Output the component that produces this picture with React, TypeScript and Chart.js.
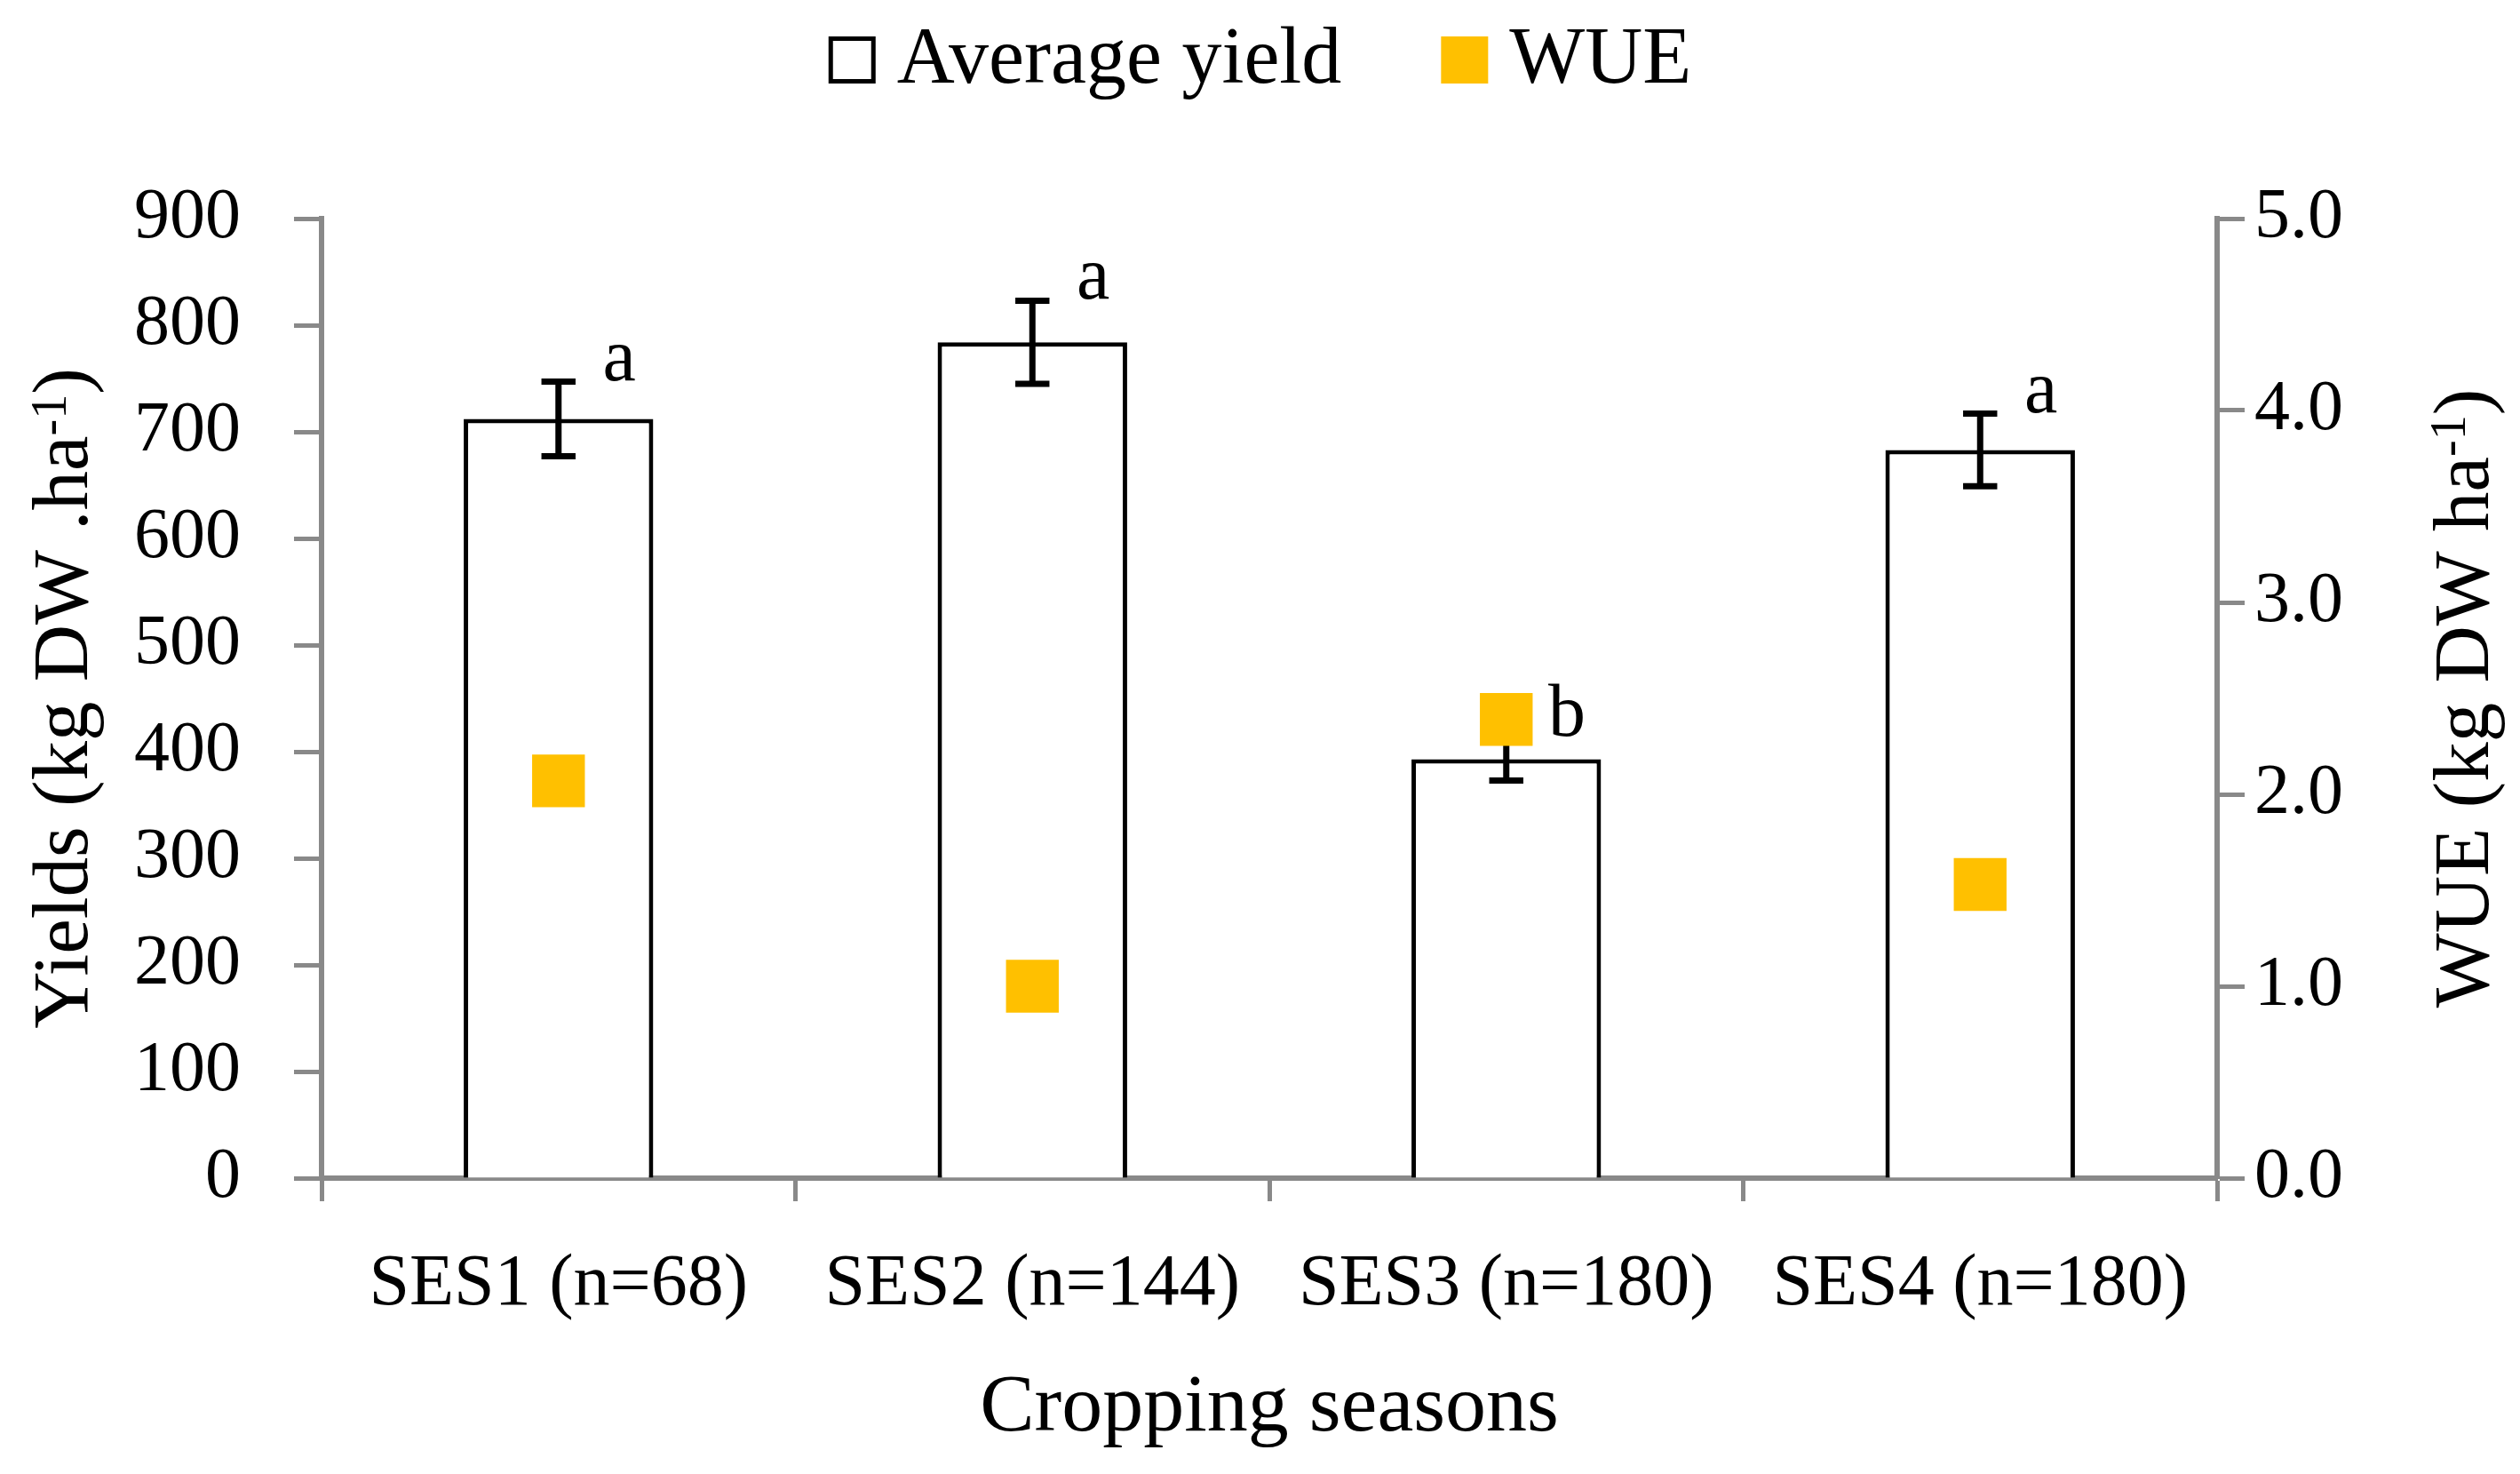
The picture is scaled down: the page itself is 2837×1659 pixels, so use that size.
import React, { useEffect, useRef } from 'react';
import { Chart, registerables } from 'chart.js';

Chart.register(...registerables);

const categories = ['SES1 (n=68)', 'SES2 (n=144)', 'SES3 (n=180)', 'SES4 (n=180)'];
const avgYield = [712, 784, 393, 683];
const yieldError = [35, 39, 20, 34];
const wue = [2.07, 1.0, 2.39, 1.53];
const significance = ['a', 'a', 'b', 'a'];
const legendLabels = ['Average yield', 'WUE'];
const xTitle = 'Cropping seasons';
const yTitleMain = 'Yields (kg DW .ha';
const y1TitleMain = 'WUE (kg DW ha';
const titleSup = '-1';
const titleEnd = ')';

const FONT = "'Liberation Serif', 'Times New Roman', serif";
const AXIS_GRAY = '#898989';
const WUE_COLOR = '#FFC000';
const W = 2837;
const H = 1659;

function drawRotatedTitle(ctx: CanvasRenderingContext2D, cx: number, cy: number, main: string, raise: number) {
  ctx.save();
  ctx.translate(cx, cy);
  ctx.rotate(-Math.PI / 2);
  ctx.fillStyle = '#000';
  ctx.textBaseline = 'alphabetic';
  ctx.textAlign = 'left';
  const big = `89px ${FONT}`;
  const small = `56px ${FONT}`;
  ctx.font = big;
  const w1 = ctx.measureText(main).width;
  const w3 = ctx.measureText(titleEnd).width;
  ctx.font = small;
  const w2 = ctx.measureText(titleSup).width;
  const total = w1 + w2 + w3;
  let x = -total / 2;
  ctx.font = big;
  ctx.fillText(main, x, 0);
  x += w1;
  ctx.font = small;
  ctx.fillText(titleSup, x, -raise);
  x += w2;
  ctx.font = big;
  ctx.fillText(titleEnd, x, 0);
  ctx.restore();
}

const overlayPlugin = {
  id: 'overlay',
  afterDatasetDraw(chart: any, args: any) {
    if (args.index !== 0) return;
    const ctx: CanvasRenderingContext2D = chart.ctx;
    const y = chart.scales.y;
    const meta = chart.getDatasetMeta(0);
    ctx.save();
    meta.data.forEach((bar: any, i: number) => {
      const x = bar.x;
      const w = bar.width;
      const hi = y.getPixelForValue(avgYield[i] + yieldError[i]);
      const lo = y.getPixelForValue(avgYield[i] - yieldError[i]);
      const cap = w * 0.09;
      ctx.strokeStyle = '#000';
      ctx.lineWidth = 7;
      ctx.lineCap = 'butt';
      ctx.beginPath();
      ctx.moveTo(x, hi);
      ctx.lineTo(x, lo);
      ctx.moveTo(x - cap, hi);
      ctx.lineTo(x + cap, hi);
      ctx.moveTo(x - cap, lo);
      ctx.lineTo(x + cap, lo);
      ctx.stroke();
      ctx.fillStyle = '#000';
      ctx.font = `84px ${FONT}`;
      ctx.textAlign = 'center';
      ctx.textBaseline = 'alphabetic';
      ctx.fillText(significance[i], x + w * 0.32, hi - 2);
    });
    ctx.restore();
  },
  afterDraw(chart: any) {
    const ctx: CanvasRenderingContext2D = chart.ctx;
    const area = chart.chartArea;
    const midY = (area.top + area.bottom) / 2;
    const midX = (area.left + area.right) / 2;

    drawRotatedTitle(ctx, 98, midY, yTitleMain, 24);
    drawRotatedTitle(ctx, 2801, midY, y1TitleMain, 26);

    ctx.save();
    ctx.fillStyle = '#000';
    ctx.font = `92px ${FONT}`;
    ctx.textAlign = 'center';
    ctx.textBaseline = 'alphabetic';
    ctx.fillText(xTitle, midX, 1610);

    // legend
    ctx.font = `90px ${FONT}`;
    ctx.textAlign = 'left';
    const box = 53;
    const gap = 24;
    const itemGap = 112;
    const t1 = ctx.measureText(legendLabels[0]).width;
    const t2 = ctx.measureText(legendLabels[1]).width;
    const total = box + gap + t1 + itemGap + box + gap + t2;
    let x = chart.width / 2 - total / 2;
    const boxTop = 41;
    const baseline = 93;
    ctx.fillStyle = '#fff';
    ctx.fillRect(x, boxTop, box, box);
    ctx.strokeStyle = '#000';
    ctx.lineWidth = 5;
    ctx.strokeRect(x + 2.5, boxTop + 2.5, box - 5, box - 5);
    x += box + gap;
    ctx.fillStyle = '#000';
    ctx.fillText(legendLabels[0], x, baseline);
    x += t1 + itemGap;
    ctx.fillStyle = WUE_COLOR;
    ctx.fillRect(x, boxTop, box, box);
    x += box + gap;
    ctx.fillStyle = '#000';
    ctx.fillText(legendLabels[1], x, baseline);
    ctx.restore();
  },
};

export default function App() {
  const ref = useRef<HTMLCanvasElement | null>(null);

  useEffect(() => {
    if (!ref.current) return;
    const tickFont = { family: FONT, size: 80 };
    const chart = new Chart(ref.current, {
      type: 'bar',
      data: {
        labels: categories,
        datasets: [
          {
            type: 'bar',
            label: legendLabels[0],
            data: avgYield,
            backgroundColor: '#ffffff',
            borderColor: '#000000',
            borderWidth: 5,
            barPercentage: 0.4,
            categoryPercentage: 1,
            yAxisID: 'y',
            order: 1,
          } as any,
          {
            type: 'line',
            label: legendLabels[1],
            data: wue,
            yAxisID: 'y1',
            showLine: false,
            pointStyle: 'rect',
            pointRadius: 42,
            pointHoverRadius: 42,
            pointBorderWidth: 0,
            backgroundColor: WUE_COLOR,
            borderColor: WUE_COLOR,
            order: 0,
          } as any,
        ],
      },
      options: {
        responsive: false,
        animation: false,
        devicePixelRatio: 1,
        events: [],
        layout: { padding: { top: 246, left: 0, right: 0, bottom: 0 } },
        plugins: {
          legend: { display: false },
          title: { display: false },
          tooltip: { enabled: false },
        },
        scales: {
          x: {
            offset: true,
            grid: {
              offset: true,
              drawOnChartArea: false,
              drawTicks: true,
              tickLength: 26,
              tickColor: AXIS_GRAY,
              tickWidth: 5,
            },
            border: { display: true, color: AXIS_GRAY, width: 6 },
            ticks: { font: { family: FONT, size: 82 }, color: '#000', padding: 45, maxRotation: 0, autoSkip: false },
            afterFit: (s: any) => {
              s.height = 333;
            },
          },
          y: {
            position: 'left',
            min: 0,
            max: 900,
            ticks: { stepSize: 100, font: tickFont, color: '#000', padding: 60 },
            grid: {
              drawOnChartArea: false,
              drawTicks: true,
              tickLength: 31,
              tickColor: AXIS_GRAY,
              tickWidth: 5,
            },
            border: { display: true, color: AXIS_GRAY, width: 6 },
            afterFit: (s: any) => {
              s.width = 362;
            },
          },
          y1: {
            position: 'right',
            min: 0,
            max: 5,
            ticks: {
              stepSize: 1,
              font: tickFont,
              color: '#000',
              padding: 11,
              callback: (v: any) => Number(v).toFixed(1),
            },
            grid: {
              drawOnChartArea: false,
              drawTicks: true,
              tickLength: 31,
              tickColor: AXIS_GRAY,
              tickWidth: 5,
            },
            border: { display: true, color: AXIS_GRAY, width: 6 },
            afterFit: (s: any) => {
              s.width = 341;
            },
          },
        },
      } as any,
      plugins: [overlayPlugin as any],
    });
    return () => chart.destroy();
  }, []);

  return (
    <div style={{ position: 'fixed', left: 0, top: 0, width: W, height: H, background: '#fff' }}>
      <canvas ref={ref} width={W} height={H} style={{ width: W, height: H, display: 'block' }} />
    </div>
  );
}
